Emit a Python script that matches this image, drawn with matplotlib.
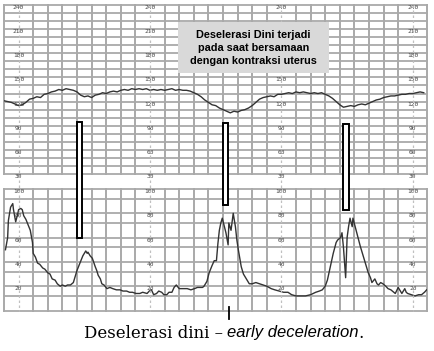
import numpy as np
import matplotlib.pyplot as plt
from matplotlib.patches import Rectangle
from matplotlib.lines import Line2D

# fetal heart rate (bpm), one reading every 5 s
fhr_t = np.arange(0, 580, 5)
fhr = [121, 120, 119, 117, 115, 116, 119, 123, 124, 126,
       125, 129, 130, 132, 133, 135, 134, 136, 135, 134,
       132, 128, 126, 127, 125, 128, 129, 131, 130, 132,
       133, 132, 134, 135, 134, 136, 135, 136, 135, 136,
       134, 135, 134, 135, 134, 135, 136, 134, 135, 134,
       134, 133, 131, 129, 126, 122, 119, 116, 115, 112,
       110, 108, 106, 108, 107, 109, 110, 112, 115, 119,
       123, 125, 126, 127, 126, 129, 129, 130, 131, 130,
       132, 131, 132, 131, 130, 131, 130, 131, 129, 127,
       124, 120, 116, 113, 114, 115, 114, 116, 117, 116,
       118, 120, 122, 123, 125, 126, 127, 127, 128, 129,
       129, 130, 130, 131, 132, 131]

# uterine contractions (mmHg)
uc_t = [2, 5, 6, 9, 12, 13, 16, 19, 20, 23, 25, 27, 30, 32, 36, 39, 40, 43, 46, 49,
        53, 56, 60, 63, 66, 70, 73, 77, 80, 84, 87, 91, 95, 100, 104, 108, 111, 112, 114, 115,
        118, 121, 125, 127, 129, 132, 134, 137, 141, 145, 149, 154, 159, 163, 168, 172, 176, 181, 186, 190,
        196, 199, 202, 205, 209, 212, 216, 219, 223, 226, 230, 233, 236, 240, 243, 247, 251, 256, 261, 265,
        268, 272, 274, 278, 281, 285, 288, 291, 293, 295, 297, 299, 302, 304, 307, 308, 311, 314, 317, 319,
        321, 325, 328, 332, 336, 340, 345, 350, 355, 360, 366, 371, 377, 383, 389, 394, 400, 407, 413, 420,
        427, 432, 436, 440, 443, 447, 451, 455, 457, 461, 463, 465, 468, 470, 472, 474, 477, 478, 481, 485,
        488, 491, 495, 499, 502, 504, 508, 511, 513, 516, 519, 523, 526, 530, 536, 540, 543, 545, 549, 551,
        553, 558, 563, 568, 572, 576, 579]
uc = [50, 60, 74, 85, 88, 83, 73, 80, 83, 84, 83, 78, 75, 72, 66, 56, 47, 44, 39, 38,
      35, 34, 31, 30, 26, 25, 22, 20, 21, 20, 21, 21, 23, 33, 39, 45, 48, 49, 47, 48,
      45, 43, 36, 33, 29, 26, 22, 21, 18, 19, 18, 17, 17, 16, 16, 15, 15, 14, 14, 15,
      14, 16, 17, 13, 14, 16, 15, 13, 13, 15, 15, 19, 21, 18, 18, 18, 18, 17, 18, 19,
      19, 19, 20, 24, 31, 37, 41, 41, 55, 66, 72, 76, 69, 64, 54, 72, 66, 80, 69, 58,
      50, 36, 30, 26, 22, 22, 23, 22, 21, 20, 18, 17, 16, 15, 15, 13, 12, 12, 12, 13,
      15, 16, 17, 20, 25, 36, 47, 56, 58, 60, 64, 52, 27, 60, 69, 76, 69, 76, 69, 60,
      53, 47, 39, 31, 27, 23, 26, 22, 21, 23, 22, 20, 18, 17, 14, 19, 16, 14, 18, 15,
      14, 13, 12, 13, 13, 15, 17]

# marker bars: start/end time (s), top (bpm), bottom (mmHg)
mark_t0 = [100, 300, 465]
mark_t1 = [107, 307, 472]
mark_top = [95, 93, 92]
mark_bot = [60, 87, 83]

fhr_labels = [240, 210, 180, 150, 120, 90, 60, 30]
uc_labels = [100, 80, 60, 40, 20]
uc_lines = [0, 12, 20, 32, 40, 52, 60, 72, 80, 92, 100]
label_cols = [20, 200, 380, 560]
hidden = [(380, 210), (380, 180)]   # covered by the note box

box_text = 'Deselerasi Dini terjadi\npada saat bersamaan\ndengan kontraksi uterus'
cap_main = 'Deselerasi dini –'
cap_ital = 'early deceleration'

W, H = 434, 351
fig = plt.figure(figsize=(W / 100, H / 100), dpi=100)
gc = '#a9a9a9'

def frac(x0, y0, x1, y1):
    return [x0 / W, 1 - y1 / H, (x1 - x0) / W, (y1 - y0) / H]

ax1 = fig.add_axes(frac(4, 5, 427.4, 174))
ax2 = fig.add_axes(frac(4, 189, 427.4, 310.5))
ax1.set_ylim(30, 240)
ax2.set_ylim(0, 100)

for ax in (ax1, ax2):
    ax.set_xlim(0, 580)
    ax.axis('off')
    for t in range(0, 581, 20):
        if t not in label_cols:
            ax.axvline(t, color=gc, lw=1.4, clip_on=False, zorder=1)

for v in range(30, 241, 10):
    ax1.axhline(v, color=gc, lw=1.3, clip_on=False, zorder=1)
for v in uc_lines:
    ax2.axhline(v, color=gc, lw=1.3, clip_on=False, zorder=1)

def to_fig(ax, x, y):
    return fig.transFigure.inverted().transform(ax.transData.transform((x, y)))

# dashed scale columns running through both panels
for t in label_cols:
    (xa, ya) = to_fig(ax1, t, 240)
    (xb, yb) = to_fig(ax2, t, 0)
    fig.add_artist(Line2D([xa, xb], [ya, yb], color='#c0c0c0', lw=0.9,
                          ls=(0, (2, 2)), zorder=0.5))
    for v in fhr_labels:
        if (t, v) in hidden:
            continue
        ax1.text(t, v, str(v), fontsize=4.5, color='#444444', ha='center',
                 va='top', family='DejaVu Sans Mono', clip_on=False, zorder=2)
    for v in uc_labels:
        ax2.text(t, v, str(v), fontsize=4.5, color='#444444', ha='center',
                 va='top', family='DejaVu Sans Mono', clip_on=False, zorder=2)

ax1.plot(fhr_t, fhr, color='#333333', lw=1.0, zorder=3)
ax2.plot(uc_t, uc, color='#333333', lw=1.0, zorder=3)

# marker bars spanning both panels
for a, b, top, bot in zip(mark_t0, mark_t1, mark_top, mark_bot):
    (xa, ya) = to_fig(ax1, a, top)
    (xb, yb) = to_fig(ax2, b, bot)
    fig.add_artist(Rectangle((xa, yb), xb - xa, ya - yb, facecolor='white',
                             edgecolor='black', lw=1.4, zorder=5))

# tick under the strip
ax2.plot([308, 308], [3, -7], color='black', lw=1.3, clip_on=False, zorder=4)

# annotation box
fig.add_artist(Rectangle((178 / W, 1 - 73 / H), 151 / W, 51 / H,
                         facecolor='#d9d9d9', edgecolor='none', zorder=5))
fig.text(253.5 / W, 1 - 48 / H, box_text, ha='center', va='center',
         fontsize=7.8, fontweight='bold', family='Liberation Sans',
         linespacing=1.35, zorder=6)

# caption: serif + italic sans pieces
yc = 1 - 333 / H
t1 = fig.text(0, yc, cap_main, fontsize=12, family='DejaVu Serif', va='center')
t2 = fig.text(0, yc, cap_ital, fontsize=12, family='Liberation Sans',
              style='italic', va='center')
t3 = fig.text(0, yc, '.', fontsize=12, family='DejaVu Serif', va='center')
fig.canvas.draw()
r = fig.canvas.get_renderer()
w1 = t1.get_window_extent(r).width
w2 = t2.get_window_extent(r).width
w3 = t3.get_window_extent(r).width
gap = 4
x = 224 - (w1 + gap + w2 + w3) / 2
t1.set_x(x / W)
t2.set_x((x + w1 + gap) / W)
t3.set_x((x + w1 + gap + w2) / W)

fig.savefig('out.png', dpi=100)
